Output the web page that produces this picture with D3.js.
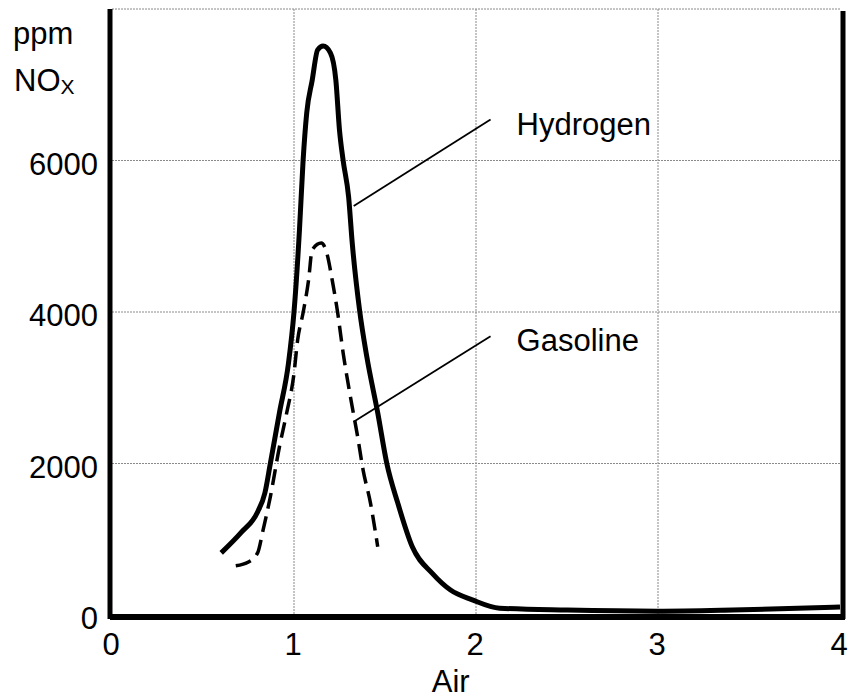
<!DOCTYPE html>
<html>
<head>
<meta charset="utf-8">
<script src="https://cdn.jsdelivr.net/npm/d3@7"></script>
<style>
  body { margin: 0; background: #fff; }
  text { font-family: Arial, "Liberation Sans", sans-serif; fill: #000; }
</style>
</head>
<body>
<div id="chart-area"></div>
<script>
// series (air ratio, ppm NOx)
const hydrogenAir = [0.60, 0.71, 0.80, 0.84, 0.87, 0.92, 0.97, 1.00, 1.03, 1.05, 1.07, 1.10, 1.13, 1.16, 1.20, 1.23, 1.25, 1.27, 1.30, 1.32, 1.36, 1.40, 1.46, 1.51, 1.57, 1.65, 1.76, 1.86, 1.98, 2.13, 2.50, 3.00, 3.41, 4.00];
const hydrogenNox = [820, 1090, 1360, 1610, 2000, 2670, 3330, 4000, 5080, 6000, 6630, 7060, 7460, 7510, 7420, 7060, 6400, 6000, 5520, 4910, 4030, 3410, 2670, 2000, 1480, 900, 550, 330, 200, 90, 65, 50, 65, 105];

const gasolineAir = [0.68, 0.75, 0.80, 0.83, 0.87, 0.92, 0.96, 1.00, 1.02, 1.05, 1.08, 1.10, 1.15, 1.18, 1.21, 1.24, 1.27, 1.31, 1.35, 1.38, 1.42, 1.46];
const gasolineNox = [650, 700, 820, 1120, 1560, 2220, 2670, 3190, 3630, 3990, 4420, 4820, 4910, 4780, 4420, 3990, 3460, 2880, 2350, 1910, 1480, 900];

const xTicks = [0, 1, 2, 3, 4];
const yTicks = [0, 2000, 4000, 6000];
const xGrid = [1, 2, 3];
const yGrid = [2000, 4000, 6000, 8000];

const width = 854, height = 698;

let svg = d3.select("#chart-area").append("svg")
  .attr("width", width)
  .attr("height", height);

let x = d3.scaleLinear().domain([0, 4]).range([112, 840]);
let y = d3.scaleLinear().domain([0, 8000]).range([615, 9]);

// dotted grid
let grid = svg.append("g")
  .attr("stroke", "#8a8a8a")
  .attr("stroke-width", 1)
  .attr("stroke-dasharray", "2,1");
grid.selectAll(".gx").data(xGrid).enter().append("line")
  .attr("x1", d => x(d)).attr("x2", d => x(d))
  .attr("y1", y(8000)).attr("y2", y(0));
grid.selectAll(".gy").data(yGrid).enter().append("line")
  .attr("x1", x(0)).attr("x2", x(4))
  .attr("y1", d => y(d)).attr("y2", d => y(d));

// frame: thick left, bottom and right
let frame = svg.append("g").attr("stroke", "#000").attr("fill", "none");
frame.append("line")
  .attr("x1", x(0) - 2).attr("x2", x(0) - 2)
  .attr("y1", y(8000)).attr("y2", y(0) + 4)
  .attr("stroke-width", 5);
frame.append("line")
  .attr("x1", x(0) - 2).attr("x2", x(4) + 5)
  .attr("y1", y(0) + 2).attr("y2", y(0) + 2)
  .attr("stroke-width", 6);
frame.append("line")
  .attr("x1", x(4) + 3).attr("x2", x(4) + 3)
  .attr("y1", y(8000) + 2).attr("y2", y(0) + 4)
  .attr("stroke-width", 5);

// curves
let line = d3.line()
  .x(d => x(d[0]))
  .y(d => y(d[1]))
  .curve(d3.curveMonotoneX);

svg.append("path")
  .datum(d3.zip(hydrogenAir, hydrogenNox))
  .attr("d", line)
  .attr("fill", "none")
  .attr("stroke", "#000")
  .attr("stroke-width", 5)
  .attr("stroke-linejoin", "round");

svg.append("path")
  .datum(d3.zip(gasolineAir, gasolineNox))
  .attr("d", line)
  .attr("fill", "none")
  .attr("stroke", "#000")
  .attr("stroke-width", 3.5)
  .attr("stroke-dasharray", "16,8");

// leader lines and labels
const labels = ["Hydrogen", "Gasoline"];
const labelAt = [[1.328, 5400], [1.328, 2550]];
const labelEnd = [[2.08, 6540], [2.08, 3680]];

svg.selectAll(".leader").data(labels).enter().append("line")
  .attr("x1", (d, i) => x(labelAt[i][0]))
  .attr("y1", (d, i) => y(labelAt[i][1]))
  .attr("x2", (d, i) => x(labelEnd[i][0]))
  .attr("y2", (d, i) => y(labelEnd[i][1]))
  .attr("stroke", "#000")
  .attr("stroke-width", 1.8);

svg.selectAll(".lbl").data(labels).enter().append("text")
  .attr("x", (d, i) => x(labelEnd[i][0]) + 26)
  .attr("y", (d, i) => y(labelEnd[i][1]) + 15)
  .attr("font-size", 31)
  .text(d => d);

// tick labels
svg.selectAll(".xt").data(xTicks).enter().append("text")
  .attr("x", d => x(d) - 1)
  .attr("y", 655)
  .attr("text-anchor", "middle")
  .attr("font-size", 31)
  .text(d => d);

svg.selectAll(".yt").data(yTicks).enter().append("text")
  .attr("x", 98)
  .attr("y", d => y(d) + 14)
  .attr("text-anchor", "end")
  .attr("font-size", 31)
  .text(d => d);

// axis titles
svg.append("text")
  .attr("x", x(1.85) + 2)
  .attr("y", 692)
  .attr("text-anchor", "middle")
  .attr("font-size", 31)
  .text("Air");

svg.append("text")
  .attr("x", 13)
  .attr("y", 44)
  .attr("font-size", 31)
  .text("ppm");

let nox = svg.append("text")
  .attr("x", 14)
  .attr("y", 91)
  .attr("font-size", 31);
nox.append("tspan").text("NO");
nox.append("tspan")
  .attr("font-size", 21)
  .attr("dy", 3)
  .text("X");
</script>
</body>
</html>
